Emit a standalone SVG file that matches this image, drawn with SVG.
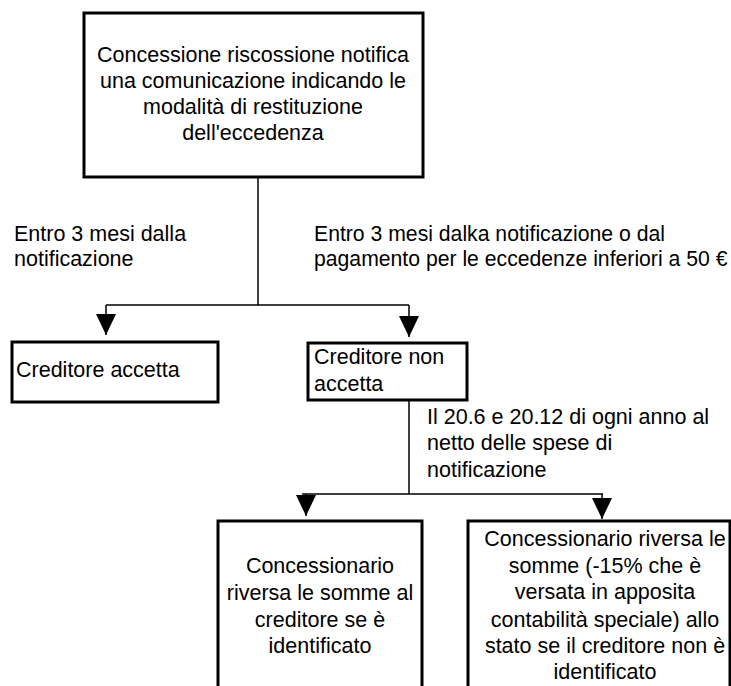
<svg xmlns="http://www.w3.org/2000/svg" width="731" height="686" viewBox="0 0 731 686">
<defs>
<marker id="arr" markerUnits="userSpaceOnUse" markerWidth="21" markerHeight="20" refX="21" refY="10" orient="auto">
<path d="M0,0 L21,10 L0,20 z" fill="#000"/>
</marker>
<style>
.box{fill:#fff;stroke:#000;stroke-width:3}
.ln{fill:none;stroke:#000;stroke-width:1.5}
text{font-family:"Liberation Sans",Arial,sans-serif;font-size:21.5px;fill:#000}
.c{text-anchor:middle}
.s{font-size:21.2px}
</style>
</defs>
<rect width="731" height="686" fill="#fff"/>
<g id="connectors">
<path class="ln" d="M258,177 V305 M106,305 H409"/>
<path class="ln" d="M106,305 V335" marker-end="url(#arr)"/>
<path class="ln" d="M409,305 V337" marker-end="url(#arr)"/>
<path class="ln" d="M409,400 V494 M302,494 H603"/>
<path class="ln" d="M306,494 V516" marker-end="url(#arr)"/>
<path class="ln" d="M602,494 V519" marker-end="url(#arr)"/>
</g>
<g id="n_top">
<rect class="box" x="84" y="13" width="339" height="164"/>
<text class="c" x="253" y="62">Concessione riscossione notifica</text>
<text class="c" x="253" y="88">una comunicazione indicando le</text>
<text class="c" x="253" y="114">modalità di restituzione</text>
<text class="c" x="253" y="140">dell'eccedenza</text>
</g>
<g id="lbl_left">
<text x="14" y="241">Entro 3 mesi dalla</text>
<text x="14" y="266">notificazione</text>
</g>
<g id="lbl_right">
<text class="s" x="314" y="241">Entro 3 mesi dalka notificazione o dal</text>
<text class="s" x="314" y="266">pagamento per le eccedenze inferiori a 50 €</text>
</g>
<g id="n_accetta">
<rect class="box" x="12" y="342" width="206" height="60"/>
<text x="16" y="377">Creditore accetta</text>
</g>
<g id="n_non_accetta">
<rect class="box" x="308" y="343" width="159" height="57"/>
<text x="314" y="364">Creditore non</text>
<text x="314" y="391">accetta</text>
</g>
<g id="lbl_date">
<text x="427" y="424">Il 20.6 e 20.12 di ogni anno al</text>
<text x="427" y="450">netto delle spese di</text>
<text x="427" y="477">notificazione</text>
</g>
<g id="n_creditore">
<rect class="box" x="218" y="521" width="204" height="180"/>
<text class="c" x="320" y="573">Concessionario</text>
<text class="c" x="320" y="600">riversa le somme al</text>
<text class="c" x="320" y="627">creditore se è</text>
<text class="c" x="320" y="653">identificato</text>
</g>
<g id="n_stato">
<rect class="box" x="468" y="521" width="262" height="180"/>
<text class="c" x="605" y="546">Concessionario riversa le</text>
<text class="c" x="605" y="573">somme (-15% che è</text>
<text class="c" x="605" y="599">versata in apposita</text>
<text class="c" x="605" y="627">contabilità speciale) allo</text>
<text class="c" x="605" y="653">stato se il creditore non è</text>
<text class="c" x="605" y="679">identificato</text>
</g>
</svg>
